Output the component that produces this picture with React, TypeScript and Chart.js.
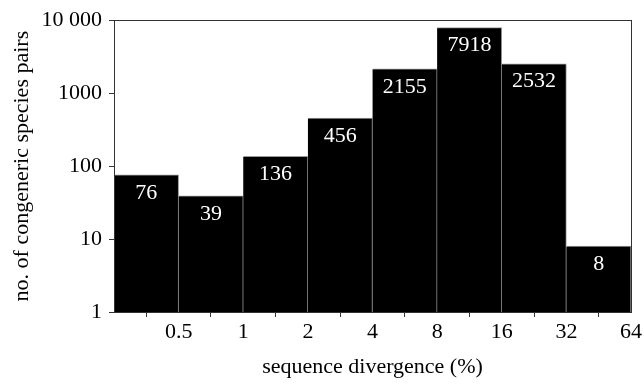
import React, { useEffect, useRef } from "react";
import { Chart, registerables } from "chart.js";

Chart.register(...registerables);

const binLabels = ["0.5", "1", "2", "4", "8", "16", "32", "64"];
const pairCounts = [76, 39, 136, 456, 2155, 7918, 2532, 8];
const yTickValues = [1, 10, 100, 1000, 10000];
const yTickLabels = ["1", "10", "100", "1000", "10 000"];
const xTitle = "sequence divergence (%)";
const yTitle = "no. of congeneric species pairs";

const FONT = "'Liberation Serif', 'Times New Roman', serif";

export default function App() {
  const ref = useRef<HTMLCanvasElement | null>(null);

  useEffect(() => {
    if (!ref.current) return;

    const boxPlugin = {
      id: "box",
      afterDraw(chart: any) {
        const { ctx, chartArea } = chart;
        ctx.save();
        ctx.strokeStyle = "#333";
        ctx.lineWidth = 1;
        ctx.strokeRect(
          Math.round(chartArea.left) + 0.5,
          Math.round(chartArea.top) + 0.5,
          Math.round(chartArea.right) - Math.round(chartArea.left),
          Math.round(chartArea.bottom) - Math.round(chartArea.top)
        );
        ctx.restore();
      },
    };

    const labelPlugin = {
      id: "barLabels",
      afterDatasetsDraw(chart: any) {
        const { ctx } = chart;
        const meta = chart.getDatasetMeta(0);
        ctx.save();
        ctx.fillStyle = "#fff";
        ctx.font = `22px ${FONT}`;
        ctx.textAlign = "center";
        ctx.textBaseline = "middle";
        meta.data.forEach((el: any, i: number) => {
          ctx.fillText(String(pairCounts[i]), el.x, el.y + 18);
        });
        ctx.restore();
      },
    };

    const chart = new Chart(ref.current, {
      type: "bar",
      data: {
        datasets: [
          {
            data: pairCounts.map((v, i) => ({ x: i + 0.5, y: v })),
            backgroundColor: "#000",
            borderColor: "#999",
            borderWidth: { top: 1, right: 1, left: 0, bottom: 0 },
            borderSkipped: false,
            barPercentage: 1,
            categoryPercentage: 1,
          },
        ],
      },
      options: {
        responsive: false,
        animation: false,
        layout: { padding: { top: 20, right: 12, left: 0, bottom: 0 } },
        plugins: {
          legend: { display: false },
          tooltip: { enabled: false },
        },
        scales: {
          x: {
            type: "linear",
            min: 0,
            max: 8,
            offset: false,
            grid: {
              display: true,
              drawOnChartArea: false,
              drawTicks: true,
              tickLength: 5,
              color: "#333",
            },
            border: { display: false },
            ticks: {
              color: "#000",
              font: { family: FONT, size: 22 },
              padding: 2,
              maxRotation: 0,
              autoSkip: false,
              callback: (v: any) => {
                const idx = Math.round(Number(v)) - 1;
                return idx >= 0 && idx < binLabels.length ? binLabels[idx] : "";
              },
            },
            afterBuildTicks: (scale: any) => {
              scale.ticks = binLabels.map((_, i) => ({ value: i + 1 }));
            },
            afterFit: (scale: any) => {
              scale.height = 74;
            },
            title: {
              display: true,
              text: xTitle,
              color: "#000",
              font: { family: FONT, size: 22 },
              padding: { top: 0, bottom: 6 },
            },
          },
          y: {
            type: "logarithmic",
            min: 1,
            max: 10000,
            grid: {
              display: true,
              drawOnChartArea: false,
              drawTicks: true,
              tickLength: 5,
              color: "#333",
            },
            border: { display: false },
            ticks: {
              color: "#000",
              font: { family: FONT, size: 22 },
              padding: 7,
              autoSkip: false,
              callback: (v: any) => {
                const idx = yTickValues.indexOf(Number(v));
                return idx >= 0 ? yTickLabels[idx] : "";
              },
            },
            afterBuildTicks: (scale: any) => {
              scale.ticks = yTickValues.map((v) => ({ value: v }));
            },
            afterFit: (scale: any) => {
              scale.width = 114;
            },
            title: {
              display: true,
              text: yTitle,
              color: "#000",
              font: { family: FONT, size: 22 },
              padding: { top: 9, bottom: 0 },
            },
          },
        },
      },
      plugins: [boxPlugin, labelPlugin],
    });

    return () => chart.destroy();
  }, []);

  return (
    <div style={{ position: "absolute", left: 0, top: 0, width: 644, height: 386, background: "#fff" }}>
      <canvas ref={ref} width={644} height={386} style={{ display: "block" }} />
    </div>
  );
}
